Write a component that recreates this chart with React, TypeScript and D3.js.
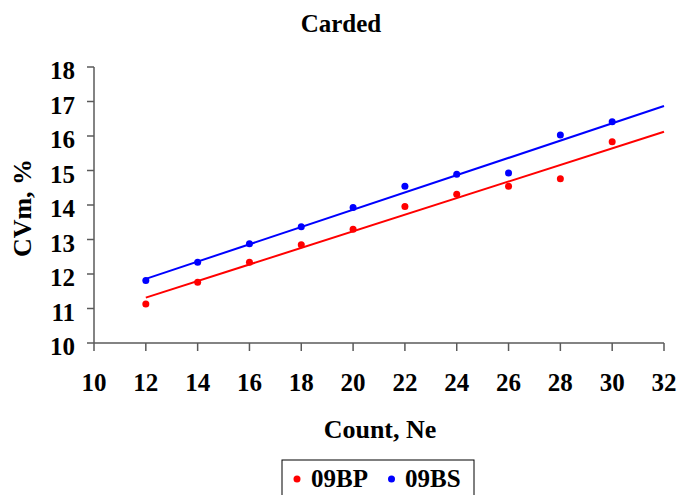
import React from "react";
import * as d3 from "d3";

const counts = [12, 14, 16, 18, 20, 22, 24, 26, 28, 30];
const bpValues = [11.13, 11.76, 12.34, 12.85, 13.3, 13.96, 14.31, 14.54, 14.76, 15.83];
const bsValues = [11.81, 12.34, 12.88, 13.37, 13.93, 14.54, 14.89, 14.93, 16.03, 16.41];
const xTicks = [10, 12, 14, 16, 18, 20, 22, 24, 26, 28, 30, 32];
const yTicks = [10, 11, 12, 13, 14, 15, 16, 17, 18];
const seriesNames = ["09BP", "09BS"];
const seriesColors = ["#ff0000", "#0000ff"];

const W = 678;
const H = 495;
const font = "'Liberation Serif', 'Times New Roman', serif";

function fit(xs: number[], ys: number[]) {
  const mx = d3.mean(xs) as number;
  const my = d3.mean(ys) as number;
  let sxy = 0, sxx = 0;
  xs.forEach((x, i) => {
    sxy += (x - mx) * (ys[i] - my);
    sxx += (x - mx) * (x - mx);
  });
  const b = sxy / sxx;
  return (x: number) => my + b * (x - mx);
}

export default function App() {
  const x = d3.scaleLinear().domain([10, 32]).range([94, 664]);
  const y = d3.scaleLinear().domain([10, 18]).range([343, 67]);
  const series = [bpValues, bsValues];
  const axisColor = "#5a5a5a";

  return (
    <svg width={W} height={H} style={{ position: "absolute", left: 0, top: 0 }}>
      <rect width={W} height={H} fill="#fff" />
      <text x={341} y={32} textAnchor="middle" fontFamily={font} fontWeight="bold" fontSize={25}>
        Carded
      </text>
      {/* y axis */}
      <line x1={x(10)} x2={x(10)} y1={y(10)} y2={y(18)} stroke={axisColor} strokeWidth={1.5} />
      {yTicks.map((t) => (
        <g key={"y" + t}>
          <line x1={x(10) - 7} x2={x(10)} y1={y(t)} y2={y(t)} stroke={axisColor} strokeWidth={1.5} />
          <text x={75} y={y(t) + 12} textAnchor="end" fontFamily={font} fontWeight="bold" fontSize={25}>
            {t}
          </text>
        </g>
      ))}
      {/* x axis */}
      <line x1={x(10)} x2={x(32)} y1={y(10)} y2={y(10)} stroke={axisColor} strokeWidth={1.5} />
      {xTicks.map((t) => (
        <g key={"x" + t}>
          <line x1={x(t)} x2={x(t)} y1={y(10)} y2={y(10) + 8} stroke={axisColor} strokeWidth={1.5} />
          <text x={x(t)} y={391} textAnchor="middle" fontFamily={font} fontWeight="bold" fontSize={25}>
            {t}
          </text>
        </g>
      ))}
      <text
        transform={`translate(31,${208}) rotate(-90)`}
        textAnchor="middle"
        fontFamily={font}
        fontWeight="bold"
        fontSize={26}
      >
        CVm, %
      </text>
      <text x={380} y={438} textAnchor="middle" fontFamily={font} fontWeight="bold" fontSize={26}>
        Count, Ne
      </text>
      {/* trend lines */}
      {series.map((vals, si) => {
        const f = fit(counts, vals);
        const line = d3
          .line<number>()
          .x((d) => x(d))
          .y((d) => y(f(d)));
        return (
          <path key={"t" + si} d={line([12, 32]) || ""} fill="none" stroke={seriesColors[si]} strokeWidth={2} />
        );
      })}
      {/* points */}
      {series.map((vals, si) =>
        vals.map((v, i) => (
          <circle key={`p${si}-${i}`} cx={x(counts[i])} cy={y(v)} r={3.5} fill={seriesColors[si]} />
        ))
      )}
      {/* legend */}
      <rect x={282} y={460} width={192} height={40} fill="#fff" stroke="#000" strokeWidth={1} />
      <circle cx={297} cy={479} r={3.5} fill={seriesColors[0]} />
      <text x={311} y={487} fontFamily={font} fontWeight="bold" fontSize={25}>
        {seriesNames[0]}
      </text>
      <circle cx={391.5} cy={479} r={3.5} fill={seriesColors[1]} />
      <text x={405} y={487} fontFamily={font} fontWeight="bold" fontSize={25}>
        {seriesNames[1]}
      </text>
    </svg>
  );
}
